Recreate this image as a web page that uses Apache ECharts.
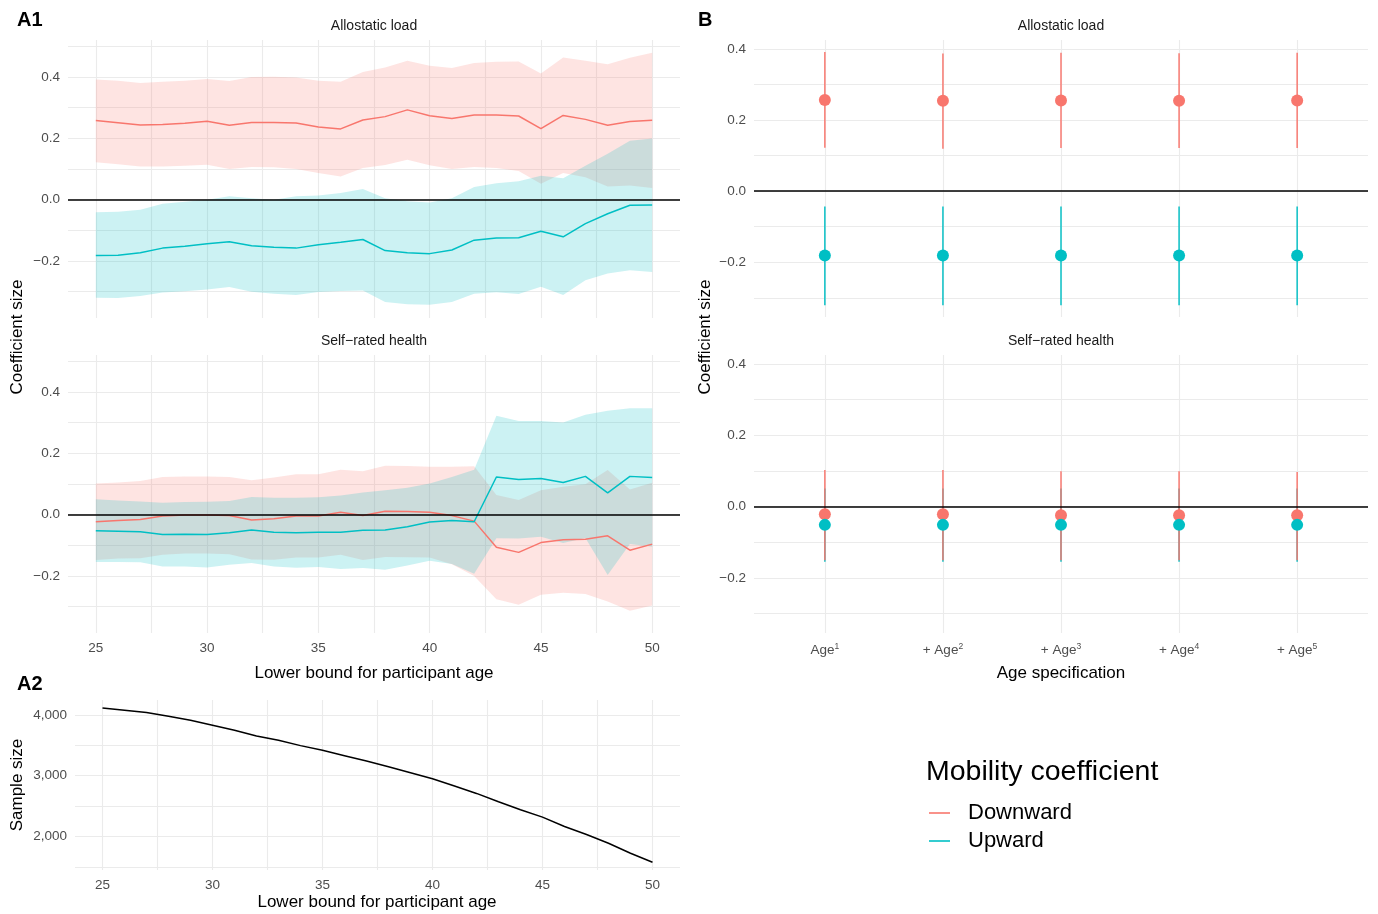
<!DOCTYPE html>
<html><head><meta charset="utf-8">
<script src="https://cdn.jsdelivr.net/npm/echarts@6/dist/echarts.min.js"></script>
<style>html,body{margin:0;padding:0;background:#fff}#c{width:1378px;height:914px}</style>
</head><body><div id="c"></div>
<script>
// ---------- DATA ----------
const ages = [25,26,27,28,29,30,31,32,33,34,35,36,37,38,39,40,41,42,43,44,45,46,47,48,49,50];

// Panel A1 - Allostatic load
const alloDown   = [0.258,0.251,0.244,0.245,0.249,0.256,0.243,0.252,0.252,0.250,0.237,0.231,0.260,0.271,0.293,0.274,0.265,0.276,0.276,0.273,0.232,0.275,0.262,0.243,0.255,0.259];
const alloDownHi = [0.392,0.388,0.381,0.385,0.388,0.394,0.387,0.400,0.401,0.399,0.388,0.385,0.417,0.431,0.453,0.437,0.430,0.446,0.450,0.451,0.412,0.464,0.453,0.442,0.463,0.479];
const alloDownLo = [0.122,0.116,0.108,0.108,0.111,0.114,0.100,0.107,0.106,0.100,0.087,0.076,0.103,0.113,0.130,0.112,0.100,0.107,0.103,0.094,0.052,0.087,0.073,0.043,0.046,0.038];
const alloUp     = [-0.182,-0.181,-0.173,-0.158,-0.152,-0.144,-0.137,-0.150,-0.155,-0.158,-0.147,-0.139,-0.130,-0.166,-0.173,-0.176,-0.164,-0.132,-0.125,-0.124,-0.103,-0.121,-0.078,-0.046,-0.018,-0.017];
const alloUpHi   = [-0.041,-0.039,-0.033,-0.013,-0.007,0.000,0.011,0.005,0.000,0.011,0.014,0.022,0.035,0.005,-0.005,-0.009,0.005,0.041,0.054,0.060,0.078,0.070,0.111,0.150,0.192,0.200];
const alloUpLo   = [-0.320,-0.321,-0.314,-0.303,-0.299,-0.293,-0.285,-0.300,-0.307,-0.311,-0.301,-0.298,-0.296,-0.334,-0.341,-0.343,-0.334,-0.307,-0.302,-0.308,-0.284,-0.311,-0.263,-0.241,-0.230,-0.236];

// Panel A1 - Self-rated health
const srhDown    = [-0.023,-0.019,-0.016,-0.004,-0.001,-0.001,-0.003,-0.017,-0.013,-0.004,-0.004,0.008,-0.003,0.011,0.010,0.008,-0.003,-0.021,-0.106,-0.123,-0.091,-0.082,-0.080,-0.069,-0.116,-0.096];
const srhDownHi  = [0.102,0.105,0.110,0.123,0.125,0.125,0.123,0.112,0.121,0.132,0.132,0.147,0.142,0.160,0.159,0.156,0.156,0.158,0.064,0.048,0.080,0.091,0.099,0.146,0.082,0.104];
const srhDownLo  = [-0.148,-0.143,-0.142,-0.131,-0.127,-0.127,-0.129,-0.146,-0.147,-0.140,-0.140,-0.131,-0.148,-0.138,-0.139,-0.140,-0.162,-0.200,-0.276,-0.294,-0.261,-0.255,-0.259,-0.283,-0.313,-0.296];
const srhUp      = [-0.052,-0.054,-0.056,-0.065,-0.064,-0.065,-0.059,-0.050,-0.057,-0.059,-0.057,-0.057,-0.051,-0.050,-0.039,-0.024,-0.019,-0.023,0.123,0.115,0.118,0.105,0.125,0.071,0.125,0.121];
const srhUpHi    = [0.050,0.046,0.043,0.039,0.041,0.042,0.045,0.058,0.055,0.055,0.057,0.063,0.072,0.080,0.088,0.102,0.123,0.147,0.323,0.306,0.306,0.301,0.326,0.339,0.347,0.347];
const srhUpLo    = [-0.154,-0.154,-0.155,-0.169,-0.169,-0.172,-0.163,-0.158,-0.169,-0.173,-0.171,-0.177,-0.174,-0.180,-0.166,-0.150,-0.161,-0.193,-0.077,-0.078,-0.072,-0.092,-0.076,-0.197,-0.096,-0.105];

// Panel A2 - sample size
const sampleSize = [4115,4077,4038,3978,3912,3830,3747,3654,3582,3495,3418,3330,3242,3148,3049,2951,2830,2709,2571,2440,2319,2165,2033,1890,1725,1577];

// Panel B - age specification
const specPos   = [1,2,3,4,5];
const specBase  = ['Age','+ Age','+ Age','+ Age','+ Age'];
const specPow   = ['1','2','3','4','5'];
const bAlloDown   = [0.256,0.254,0.255,0.254,0.255];
const bAlloDownHi = [0.391,0.387,0.389,0.388,0.389];
const bAlloDownLo = [0.122,0.119,0.121,0.121,0.121];
const bAlloUp     = [-0.181,-0.181,-0.181,-0.181,-0.181];
const bAlloUpHi   = [-0.043,-0.043,-0.043,-0.043,-0.043];
const bAlloUpLo   = [-0.321,-0.321,-0.321,-0.321,-0.321];
const bSrhDown    = [-0.021,-0.021,-0.024,-0.024,-0.024];
const bSrhDownHi  = [0.103,0.103,0.099,0.099,0.097];
const bSrhDownLo  = [-0.150,-0.150,-0.150,-0.150,-0.150];
const bSrhUp      = [-0.051,-0.051,-0.051,-0.051,-0.051];
const bSrhUpHi    = [0.051,0.051,0.051,0.051,0.051];
const bSrhUpLo    = [-0.154,-0.154,-0.154,-0.154,-0.154];

// Ticks
const coefTicks  = [-0.3,-0.2,-0.1,0,0.1,0.2,0.3,0.4,0.5];
const coefLabels = [-0.2,0,0.2,0.4];
const ageTicks   = [25,27.5,30,32.5,35,37.5,40,42.5,45,47.5,50];
const ageLabels  = [25,30,35,40,45,50];
const sizeTicks  = [1500,2000,2500,3000,3500,4000];
const sizeLabels = [2000,3000,4000];
const seriesNames = ['Downward','Upward'];

// ---------- STYLE ----------
const RED = '#F8766D', CYAN = '#00BFC4';
const RED_F = 'rgba(248,118,109,0.2)', CYAN_F = 'rgba(0,191,196,0.2)';
const FONT = '"Liberation Sans", Arial, Helvetica, sans-serif';
const GRID_C = '#ebebeb';
const TICK_C = '#4d4d4d';
const fmtCoef = v => (v < 0 ? '\u2212' : '') + Math.abs(v).toFixed(1);

const chart = echarts.init(document.getElementById('c'), null, {renderer:'canvas'});

function xAge(gi, show){
  return {type:'value', gridIndex:gi, min:23.75, max:51.25,
    axisLine:{show:false}, axisTick:{show:false, customValues:ageTicks},
    splitLine:{show:true, lineStyle:{color:GRID_C, width:1.1}},
    axisLabel:{show:show, customValues:ageLabels, color:TICK_C, fontSize:13.5, fontFamily:FONT, margin:8}};
}
function yCoef(gi, min, max){
  return {type:'value', gridIndex:gi, min:min, max:max,
    axisLine:{show:false}, axisTick:{show:false, customValues:coefTicks.filter(v=>v>=min&&v<=max)},
    splitLine:{show:true, lineStyle:{color:GRID_C, width:1.1}},
    axisLabel:{customValues:coefLabels, formatter:fmtCoef, color:TICK_C, fontSize:13.5, fontFamily:FONT, margin:8}};
}
function xSpec(gi, show){
  return {type:'value', gridIndex:gi, min:0.4, max:5.6,
    axisLine:{show:false}, axisTick:{show:false, customValues:specPos},
    splitLine:{show:true, lineStyle:{color:GRID_C, width:1.1}},
    axisLabel:{show:show, customValues:specPos, margin:9,
      formatter: v => '{b|' + specBase[v-1] + '}{s|' + specPow[v-1] + '}',
      rich:{b:{fontSize:13.5, color:TICK_C, fontFamily:FONT, lineHeight:16},
            s:{fontSize:8.5, color:TICK_C, fontFamily:FONT, lineHeight:9, verticalAlign:'top'}}}};
}
function ribbon(xi, xs, lo, hi, fill){
  return {type:'custom', xAxisIndex:xi, yAxisIndex:xi, silent:true, z:1, animation:false,
    data: xs.map((x,i)=>[x, lo[i], hi[i]]), encode:{x:0, y:[1,2]},
    renderItem:(params, api)=>{
      if (params.dataIndex !== 0) return null;
      const top = xs.map((x,i)=>api.coord([x, hi[i]]));
      const bot = xs.map((x,i)=>api.coord([x, lo[i]])).reverse();
      return {type:'polygon', shape:{points: top.concat(bot)}, style:{fill:fill}};
    }};
}
const zeroLine = {silent:true, symbol:'none', label:{show:false}, animation:false,
  lineStyle:{color:'#000', width:1.7, type:'solid'}, data:[{yAxis:0}]};
function line(name, xi, xs, ys, color, withZero){
  const s = {type:'line', name:name, xAxisIndex:xi, yAxisIndex:xi, silent:true, z:3,
    data: xs.map((x,i)=>[x, ys[i]]), showSymbol:false, symbol:'none',
    lineStyle:{color:color, width:1.5}, itemStyle:{color:color}, animation:false};
  if (withZero) s.markLine = zeroLine;
  return s;
}
function errbar(xi, lo, hi, color, z){
  return {type:'custom', xAxisIndex:xi, yAxisIndex:xi, silent:true, z:z, animation:false,
    data: specPos.map((x,i)=>[x, lo[i], hi[i]]), encode:{x:0, y:[1,2]},
    renderItem:(p, api)=>{
      const a = api.coord([api.value(0), api.value(1)]);
      const b = api.coord([api.value(0), api.value(2)]);
      return {type:'line', shape:{x1:a[0], y1:a[1], x2:b[0], y2:b[1]}, style:{stroke:color, lineWidth:1.6, opacity:0.9}};
    }};
}
function dots(name, xi, vals, color, z){
  return {type:'scatter', name:name, xAxisIndex:xi, yAxisIndex:xi, silent:true, z:z, animation:false,
    data: specPos.map((x,i)=>[x, vals[i]]), symbolSize:12, itemStyle:{color:color, opacity:1}};
}

function txt(x, y, text, size, opts){
  opts = opts || {};
  return {type:'text', x:x, y:y, rotation:opts.rot||0, silent:true, z:10,
    style:{text:text, x:0, y:0, fontSize:size, fontFamily:FONT, fontWeight:opts.bold?'bold':'normal',
      fill:opts.color||'#000', textAlign:opts.align||'center', textVerticalAlign:'middle'}};
}

const option = {
  animation:false,
  backgroundColor:'#fff',
  textStyle:{fontFamily:FONT},
  grid:[
    {left:68, top:40, width:612, height:278},
    {left:68, top:355, width:612, height:278},
    {left:75, top:700, width:605, height:170},
    {left:754, top:40, width:614, height:277},
    {left:754, top:355, width:614, height:278}
  ],
  xAxis:[ xAge(0,false), xAge(1,true), xAge(2,true), xSpec(3,false), xSpec(4,true) ],
  yAxis:[ yCoef(0,-0.386,0.521), yCoef(1,-0.386,0.521),
    {type:'value', gridIndex:2, min:1450, max:4245,
      axisLine:{show:false}, axisTick:{show:false, customValues:sizeTicks},
      splitLine:{show:true, lineStyle:{color:GRID_C, width:1.1}},
      axisLabel:{customValues:sizeLabels, formatter:v=>v.toLocaleString('en-US'), color:TICK_C, fontSize:13.5, fontFamily:FONT, margin:8}},
    yCoef(3,-0.354,0.425), yCoef(4,-0.354,0.425) ],
  legend:{
    orient:'vertical', left:929, top:799, padding:0, itemGap:0, itemWidth:21, itemHeight:1.6,
    icon:'rect', data:seriesNames, selectedMode:false,
    textStyle:{fontSize:22, color:'#000', fontFamily:FONT, lineHeight:28, padding:[0,0,0,13]}
  },
  series:[
    // A1 allostatic
    ribbon(0, ages, alloDownLo, alloDownHi, RED_F),
    ribbon(0, ages, alloUpLo, alloUpHi, CYAN_F),
    line(seriesNames[0], 0, ages, alloDown, RED, true),
    line(seriesNames[1], 0, ages, alloUp, CYAN, false),
    // A1 self-rated
    ribbon(1, ages, srhDownLo, srhDownHi, RED_F),
    ribbon(1, ages, srhUpLo, srhUpHi, CYAN_F),
    line(seriesNames[0], 1, ages, srhDown, RED, true),
    line(seriesNames[1], 1, ages, srhUp, CYAN, false),
    // A2
    {type:'line', name:'Sample size', xAxisIndex:2, yAxisIndex:2, silent:true, showSymbol:false, symbol:'none',
      data: ages.map((x,i)=>[x, sampleSize[i]]), lineStyle:{color:'#000', width:1.5}, itemStyle:{color:'#000'}, animation:false},
    // B allostatic
    Object.assign(errbar(3, bAlloUpLo, bAlloUpHi, CYAN, 2), {markLine:zeroLine}),
    errbar(3, bAlloDownLo, bAlloDownHi, RED, 3),
    dots(seriesNames[0], 3, bAlloDown, RED, 4),
    dots(seriesNames[1], 3, bAlloUp, CYAN, 5),
    // B self-rated
    Object.assign(errbar(4, bSrhUpLo, bSrhUpHi, CYAN, 2), {markLine:zeroLine}),
    errbar(4, bSrhDownLo, bSrhDownHi, RED, 3),
    dots(seriesNames[0], 4, bSrhDown, RED, 4),
    dots(seriesNames[1], 4, bSrhUp, CYAN, 5)
  ],
  graphic:[
    txt(17, 20, 'A1', 20, {bold:true, align:'left'}),
    txt(698, 20, 'B', 20, {bold:true, align:'left'}),
    txt(17, 684, 'A2', 20, {bold:true, align:'left'}),
    txt(374, 26, 'Allostatic load', 14, {color:'#1a1a1a'}),
    txt(374, 341, 'Self\u2212rated health', 14, {color:'#1a1a1a'}),
    txt(1061, 26, 'Allostatic load', 14, {color:'#1a1a1a'}),
    txt(1061, 341, 'Self\u2212rated health', 14, {color:'#1a1a1a'}),
    txt(17, 337, 'Coefficient size', 17, {rot:Math.PI/2}),
    txt(705, 337, 'Coefficient size', 17, {rot:Math.PI/2}),
    txt(17, 785, 'Sample size', 17, {rot:Math.PI/2}),
    txt(374, 673, 'Lower bound for participant age', 17),
    txt(1061, 673, 'Age specification', 17),
    txt(377, 902, 'Lower bound for participant age', 17),
    txt(926, 772, 'Mobility coefficient', 28.5, {align:'left'})
  ]
};
chart.setOption(option);
</script>
</body></html>
